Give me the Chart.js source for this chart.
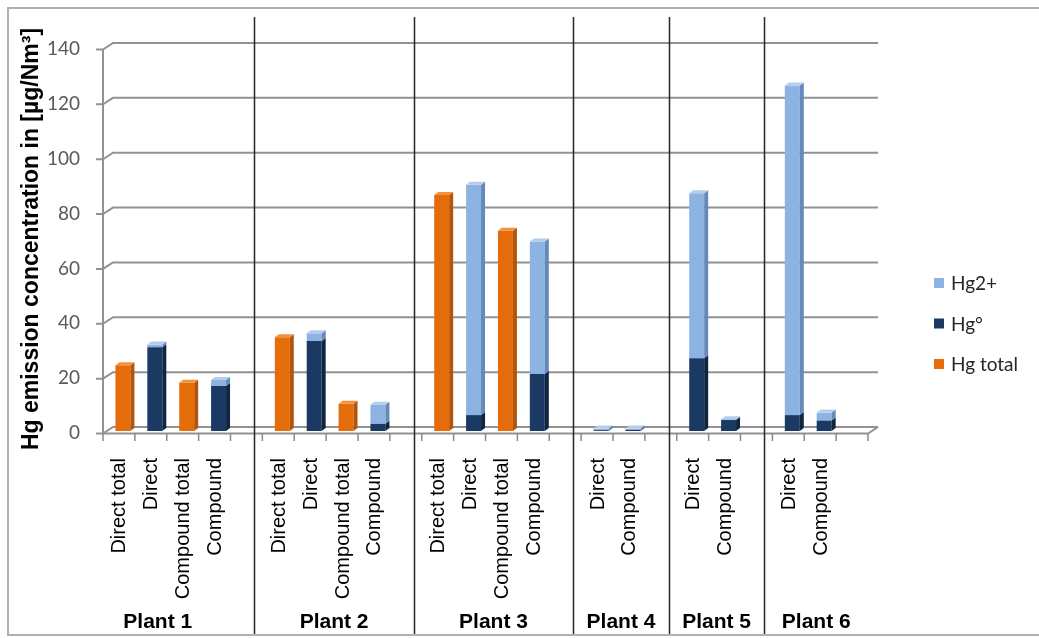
<!DOCTYPE html>
<html><head><meta charset="utf-8">
<script src="https://cdn.jsdelivr.net/npm/chart.js@4.4.1/dist/chart.umd.min.js"></script>
<style>html,body{margin:0;padding:0;background:#fff}canvas{display:block}</style>
</head><body>
<canvas id="c" width="1039" height="638"></canvas>
<script>
// ---- data ----
const categories = ['Direct total','Direct','Compound total','Compound','',
  'Direct total','Direct','Compound total','Compound','',
  'Direct total','Direct','Compound total','Compound','',
  'Direct','Compound','',
  'Direct','Compound','',
  'Direct','Compound',''];
const groups = ['Plant 1','Plant 2','Plant 3','Plant 4','Plant 5','Plant 6'];
const groupGaps = [4, 9, 14, 17, 20]; // blank category slots between plants
const hgTotal = [24,null,17.6,null,null, 34.2,null,9.9,null,null, 86,null,73,null,null, null,null,null, null,null,null, null,null,null];
const hgElemental = [null,30.5,null,16.4,null, null,32.8,null,2.6,null, null,5.8,null,20.8,null, 0.3,0.4,null, 26.5,4,null, 5.8,3.8,null];
const hg2plus = [null,1,null,2.2,null, null,2.8,null,7,null, null,84,null,48.3,null, 0.6,0.5,null, 60.2,0.3,null, 120.2,2.9,null];
const yMin = 0, yMax = 140, yStep = 20;
const yTitle = 'Hg emission concentration in [µg/Nm³]';

const COL = {
  total: {front:'#E46C0A', side:'#B3550A', top:'#F3913F'},
  elem:  {front:'#1B3A63', side:'#0F2542', top:'#3B5E8E'},
  plus:  {front:'#8DB3E2', side:'#6489BA', top:'#B4CDEE'}
};

const DX = 4, DY = 3; // 3D depth

const decor = {
  id: 'decor',
  beforeDatasetsDraw(chart) {
    const {ctx, chartArea: ca, scales: {x: xs, y: ys}} = chart;
    const slot = (xs.getPixelForValue(1) - xs.getPixelForValue(0));
    const fx = ca.left - 4;
    const fRight = fx + slot * categories.length;
    const bdx = 10;
    ctx.save();
    ctx.strokeStyle = '#929292';
    ctx.lineWidth = 2;
    ys.ticks.forEach(t => {
      const p = ys.getPixelForValue(t.value);
      const yb = p - 4, yf = p + 2.5;
      ctx.beginPath();
      ctx.moveTo(fx - 7, yf); ctx.lineTo(fx, yf);
      ctx.lineTo(fx + bdx, yb);
      ctx.lineTo(fRight + bdx, yb);
      ctx.stroke();
    });
    const y0 = ys.getPixelForValue(0);
    const yTop = ys.getPixelForValue(yMax);
    ctx.beginPath();
    ctx.moveTo(fx, yTop + 2.5); ctx.lineTo(fx, y0 + 2.5);
    ctx.stroke();
    ctx.beginPath();
    ctx.moveTo(fx, y0 + 2.5); ctx.lineTo(fRight, y0 + 2.5); ctx.lineTo(fRight + bdx, y0 - 4);
    ctx.stroke();
    ctx.lineWidth = 1.5;
    ctx.strokeStyle = '#8a8a8a';
    for (let k = 0; k <= categories.length; k++) {
      const x = fx + k * slot;
      ctx.beginPath(); ctx.moveTo(x, y0 + 2.5); ctx.lineTo(x, y0 + 10); ctx.stroke();
    }
    ctx.strokeStyle = '#262626';
    ctx.lineWidth = 1.5;
    groupGaps.forEach(g => {
      const x = Math.round(xs.getPixelForValue(g) + 4) + 0.5;
      ctx.beginPath(); ctx.moveTo(x, 17); ctx.lineTo(x, 634); ctx.stroke();
    });
    ctx.restore();
  },
  afterDatasetsDraw(chart) {
    const {ctx} = chart;
    const metas = chart.data.datasets.map((d, i) => chart.getDatasetMeta(i));
    const n = categories.length;
    ctx.save();
    for (let i = 0; i < n; i++) {
      let topEl = null, topCol = null;
      chart.data.datasets.forEach((ds, di) => {
        const v = ds.data[i];
        if (v == null || v === 0) return;
        const el = metas[di].data[i];
        const col = ds._col;
        const R = el.x + el.width / 2;
        const t = Math.min(el.y, el.base), b = Math.max(el.y, el.base);
        ctx.fillStyle = col.side;
        ctx.beginPath();
        ctx.moveTo(R, t); ctx.lineTo(R + DX, t - DY); ctx.lineTo(R + DX, b - DY); ctx.lineTo(R, b);
        ctx.closePath(); ctx.fill();
        topEl = el; topCol = col;
      });
      if (topEl) {
        const L = topEl.x - topEl.width / 2, R = topEl.x + topEl.width / 2;
        const t = Math.min(topEl.y, topEl.base);
        ctx.fillStyle = topCol.top;
        ctx.beginPath();
        ctx.moveTo(L, t); ctx.lineTo(L + DX, t - DY); ctx.lineTo(R + DX, t - DY); ctx.lineTo(R, t);
        ctx.closePath(); ctx.fill();
      }
    }
    ctx.restore();
  },
  afterDraw(chart) {
    const {ctx, chartArea: ca, scales: {x: xs}} = chart;
    ctx.save();
    const bounds = [ca.left - 46];
    groupGaps.forEach(g => bounds.push(xs.getPixelForValue(g) + 4));
    bounds.push(xs.getPixelForValue(categories.length - 1) + 12);
    ctx.font = 'bold 21px "Liberation Sans", Arial, sans-serif';
    ctx.fillStyle = '#000';
    ctx.textAlign = 'center';
    ctx.textBaseline = 'alphabetic';
    groups.forEach((g, i) => {
      ctx.fillText(g, (bounds[i] + bounds[i + 1]) / 2, 628);
    });
    const items = [
      {label: chart.data.datasets[1].label, col: COL.plus.front},
      {label: chart.data.datasets[0].label, col: COL.elem.front},
      {label: chart.data.datasets[2].label, col: COL.total.front}
    ];
    ctx.font = '19px Lato, "Open Sans", sans-serif';
    ctx.textAlign = 'left';
    ctx.textBaseline = 'middle';
    items.forEach((it, i) => {
      const cy = 283 + i * 40.5;
      ctx.fillStyle = it.col;
      ctx.fillRect(934, cy - 5, 10, 10);
      ctx.fillStyle = '#262626';
      ctx.fillText(it.label, 951, cy + 1);
    });
    ctx.strokeStyle = '#b0b0b0';
    ctx.lineWidth = 2;
    ctx.beginPath();
    ctx.moveTo(1039, 8); ctx.lineTo(8, 8); ctx.lineTo(8, 635); ctx.lineTo(1039, 635);
    ctx.stroke();
    ctx.restore();
  }
};

const datasets = [
  {label: 'Hg°', data: hgElemental, backgroundColor: COL.elem.front, _col: COL.elem},
  {label: 'Hg2+', data: hg2plus, backgroundColor: COL.plus.front, _col: COL.plus},
  {label: 'Hg total', data: hgTotal, backgroundColor: COL.total.front, _col: COL.total}
];

new Chart(document.getElementById('c'), {
  type: 'bar',
  data: {labels: categories, datasets},
  plugins: [decor],
  options: {
    responsive: false,
    animation: false,
    devicePixelRatio: 1,
    layout: {padding: {left: 0, right: 167, top: 47, bottom: 0}},
    datasets: {bar: {barPercentage: 0.47, categoryPercentage: 1, borderWidth: 0, skipNull: false}},
    plugins: {legend: {display: false}, tooltip: {enabled: false}},
    scales: {
      x: {
        stacked: true,
        grid: {display: false, drawTicks: false},
        border: {display: false},
        afterFit(s) { s.height = 207; },
        ticks: {
          autoSkip: false, minRotation: 90, maxRotation: 90, padding: 27, labelOffset: -3,
          color: '#000', font: {family: '"Liberation Sans", Arial, sans-serif', size: 20}
        }
      },
      y: {
        stacked: true,
        min: yMin, max: yMax,
        grid: {display: false, drawTicks: false},
        border: {display: false},
        afterFit(s) { s.width = 107; },
        ticks: {
          stepSize: yStep, padding: 27, labelOffset: 2,
          color: '#595959', font: {family: 'Lato, "Open Sans", sans-serif', size: 19}
        },
        title: {
          display: true, text: yTitle, color: '#000',
          font: {family: '"Liberation Sans", Arial, sans-serif', size: 23, weight: 'bold'},
          padding: {top: 18, bottom: 0}
        }
      }
    }
  }
});
</script>
</body></html>
